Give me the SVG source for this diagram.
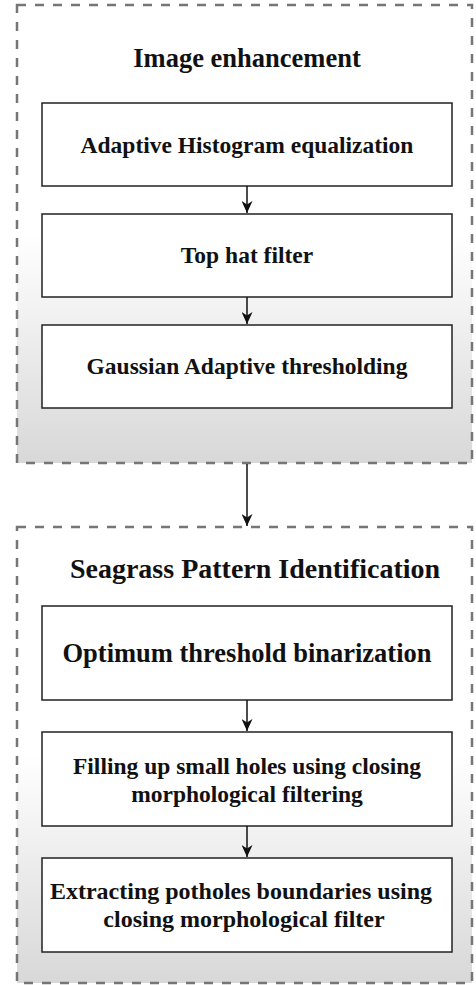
<svg xmlns="http://www.w3.org/2000/svg" width="476" height="985" viewBox="0 0 476 985">
  <defs>
    <linearGradient id="panelFill" x1="0" y1="0" x2="0" y2="1">
      <stop offset="0" stop-color="#ffffff"/>
      <stop offset="0.5" stop-color="#ffffff"/>
      <stop offset="1" stop-color="#d8d8d8"/>
    </linearGradient>
    <!-- filled, slightly notched arrowhead pointing along the line -->
    <marker id="arrowHead" markerWidth="13" markerHeight="11" refX="12" refY="5.5" orient="auto" markerUnits="userSpaceOnUse" viewBox="0 0 13 11">
      <path d="M0,0 L12,5.5 L0,11 L3.5,5.5 Z" fill="#111"/>
    </marker>
    <style>
      .panel { fill: url(#panelFill); stroke: #767676; stroke-width: 2.5; stroke-dasharray: 9 9; }
      .step { fill: #ffffff; stroke: #222; stroke-width: 1.5; }
      .title { font-family: "Liberation Serif", "Times New Roman", serif; font-weight: bold; fill: #111; text-anchor: middle; }
      .label { font-family: "Liberation Serif", "Times New Roman", serif; font-weight: bold; font-size: 23.5px; fill: #111; text-anchor: middle; }
      .link { stroke: #111; stroke-width: 1.5; fill: none; marker-end: url(#arrowHead); }
    </style>
  </defs>

  <!-- Stage 1: image enhancement -->
  <g id="stage-enhancement">
    <rect class="panel" x="17" y="5" width="455" height="458"/>
    <text class="title" x="247" y="67" font-size="26.5">Image enhancement</text>
  </g>
  <g id="step-ahe">
    <rect class="step" x="42" y="103" width="410" height="83"/>
    <text class="label" x="247" y="153">Adaptive Histogram equalization</text>
  </g>
  <g id="step-tophat">
    <rect class="step" x="42" y="214" width="410" height="83"/>
    <text class="label" x="247" y="263">Top hat filter</text>
  </g>
  <g id="step-gaussian">
    <rect class="step" x="42" y="325" width="410" height="83"/>
    <text class="label" x="247" y="374">Gaussian Adaptive thresholding</text>
  </g>

  <!-- Stage 2: seagrass pattern identification -->
  <g id="stage-seagrass">
    <rect class="panel" x="17" y="527" width="455" height="456"/>
    <text class="title" x="255" y="578" font-size="28">Seagrass Pattern Identification</text>
  </g>
  <g id="step-binarize">
    <rect class="step" x="42" y="606" width="410" height="94"/>
    <text class="label" x="247" y="662" style="font-size:26.5px">Optimum threshold binarization</text>
  </g>
  <g id="step-fill">
    <rect class="step" x="42" y="732" width="410" height="94"/>
    <text class="label" x="247" y="774">Filling up small holes using closing</text>
    <text class="label" x="247" y="802">morphological filtering</text>
  </g>
  <g id="step-extract">
    <rect class="step" x="42" y="858" width="410" height="94"/>
    <text class="label" x="241" y="899" style="font-size:24px">Extracting potholes boundaries using</text>
    <text class="label" x="244" y="927" style="font-size:24px">closing morphological filter</text>
  </g>

  <!-- Connectors -->
  <g id="connectors">
    <line class="link" x1="247" y1="186" x2="247" y2="213"/>
    <line class="link" x1="247" y1="297" x2="247" y2="324"/>
    <line class="link" x1="247" y1="464" x2="247" y2="526"/>
    <line class="link" x1="247" y1="700" x2="247" y2="731"/>
    <line class="link" x1="247" y1="826" x2="247" y2="857"/>
  </g>
</svg>
